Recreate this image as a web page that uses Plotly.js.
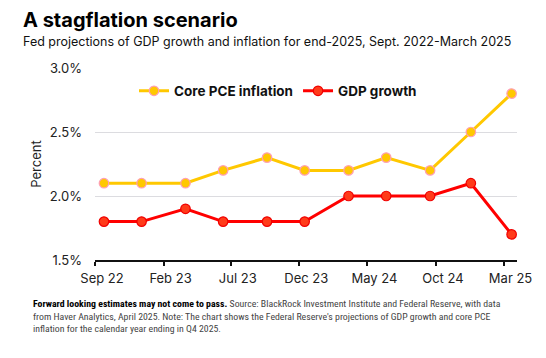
<!DOCTYPE html>
<html>
<head>
<meta charset="utf-8">
<script src="https://cdn.plot.ly/plotly-3.0.1.min.js"></script>
<style>
  html, body { margin: 0; padding: 0; background: #fff; }
  #chart { width: 546px; height: 358px; }
</style>
</head>
<body>
<div id="chart"></div>
<script>
// FOMC projection dates (Sept. 2022 - March 2025)
const meetingDates = ['2022-09-21','2022-12-14','2023-03-22','2023-06-14','2023-09-20','2023-12-13',
                      '2024-03-20','2024-06-12','2024-09-18','2024-12-18','2025-03-19'];
const corePCE = [2.1, 2.1, 2.1, 2.2, 2.3, 2.2, 2.2, 2.3, 2.2, 2.5, 2.8];
const gdpGrowth = [1.8, 1.8, 1.9, 1.8, 1.8, 1.8, 2.0, 2.0, 2.0, 2.1, 1.7];
const tickDates = ['2022-09-01','2023-02-01','2023-07-01','2023-12-01','2024-05-01','2024-10-01','2025-03-01'];
const tickLabels = ['Sep 22','Feb 23','Jul 23','Dec 23','May 24','Oct 24','Mar 25'];
const yTicks = [1.5, 2.0, 2.5, 3.0];
const yTickLabels = ['1.5%','2.0%','2.5%','3.0%'];

const FONT = 'Inter, Roboto, "Liberation Sans", sans-serif';
const NARROW = '"Liberation Sans Narrow", "Arial Narrow", "Roboto Condensed", sans-serif';

const traces = [
  {
    x: meetingDates, y: corePCE, name: 'Core PCE inflation', type: 'scatter', mode: 'lines+markers',
    line: {color: '#FFC800', width: 3},
    marker: {color: '#FFC800', size: 9.5, line: {color: '#FF9FB4', width: 1.2}},
    cliponaxis: false
  },
  {
    x: meetingDates, y: gdpGrowth, name: 'GDP growth', type: 'scatter', mode: 'lines+markers',
    line: {color: '#FF0000', width: 3},
    marker: {color: '#FF3B1A', size: 9.5, line: {color: '#F00000', width: 1.2}},
    cliponaxis: false
  }
];

const L = 95, R = 29, T = 68, B = 98, W = 546, H = 358;
const pw = W - L - R;
const px = v => (v - L) / pw;  // pixel x -> paper x
const py = v => (H - B - v) / (H - T - B); // pixel y -> paper y

const layout = {
  width: W, height: H,
  margin: {l: L, r: R, t: T, b: B, pad: 0},
  paper_bgcolor: '#fff', plot_bgcolor: '#fff',
  font: {family: FONT, color: '#222', size: 13},
  showlegend: true,
  legend: {
    orientation: 'h', x: px(134), y: py(91), xanchor: 'left', yanchor: 'middle',
    font: {family: FONT, size: 13.5, color: '#111', weight: 700},
    itemwidth: 30, tracegroupgap: 0, bgcolor: 'rgba(0,0,0,0)'
  },
  xaxis: {
    type: 'date', range: ['2022-09-01', '2025-03-31'],
    tickmode: 'array', tickvals: tickDates, ticktext: tickLabels,
    showgrid: false, zeroline: false,
    showline: true, linecolor: '#111', linewidth: 2,
    ticks: 'outside', ticklen: 4, tickwidth: 2, tickcolor: '#111',
    ticklabelshift: 7, ticklabelstandoff: 1,
    tickfont: {family: FONT, size: 13, color: '#222'},
    fixedrange: true
  },
  yaxis: {
    range: [1.5, 3.0],
    tickmode: 'array', tickvals: yTicks, ticktext: yTickLabels,
    showgrid: true, gridcolor: '#DCDCE0', gridwidth: 1,
    zeroline: false, showline: false, ticks: '',
    ticklabelstandoff: 12,
    tickfont: {family: FONT, size: 13, color: '#222'},
    title: {text: 'Percent', font: {family: FONT, size: 13, color: '#222'}, standoff: 5},
    fixedrange: true
  },
  annotations: [
    {text: '<b>A stagflation scenario</b>', xref: 'paper', yref: 'paper', x: px(21), y: py(20),
     xanchor: 'left', yanchor: 'middle', showarrow: false,
     font: {family: FONT, size: 20, color: '#000', weight: 900}},
    {text: 'Fed projections of GDP growth and inflation for end-2025, Sept. 2022-March 2025',
     xref: 'paper', yref: 'paper', x: px(21), y: py(42), xanchor: 'left', yanchor: 'middle', showarrow: false,
     font: {family: FONT, size: 12.5, color: '#111'}},
    {text: '<b style="color:#000">Forward looking estimates may not come to pass.</b> Source: BlackRock Investment Institute and Federal Reserve, with data<br>from Haver Analytics, April 2025. Note: The chart shows the Federal Reserve\'s projections of GDP growth and core PCE<br>inflation for the calendar year ending in Q4 2025.',
     xref: 'paper', yref: 'paper', x: px(31), y: py(296), xanchor: 'left', yanchor: 'top', align: 'left',
     showarrow: false,
     font: {family: NARROW, size: 9.8, color: '#444'}}
  ]
};

Plotly.newPlot('chart', traces, layout, {displayModeBar: false, staticPlot: true});
</script>
</body>
</html>
